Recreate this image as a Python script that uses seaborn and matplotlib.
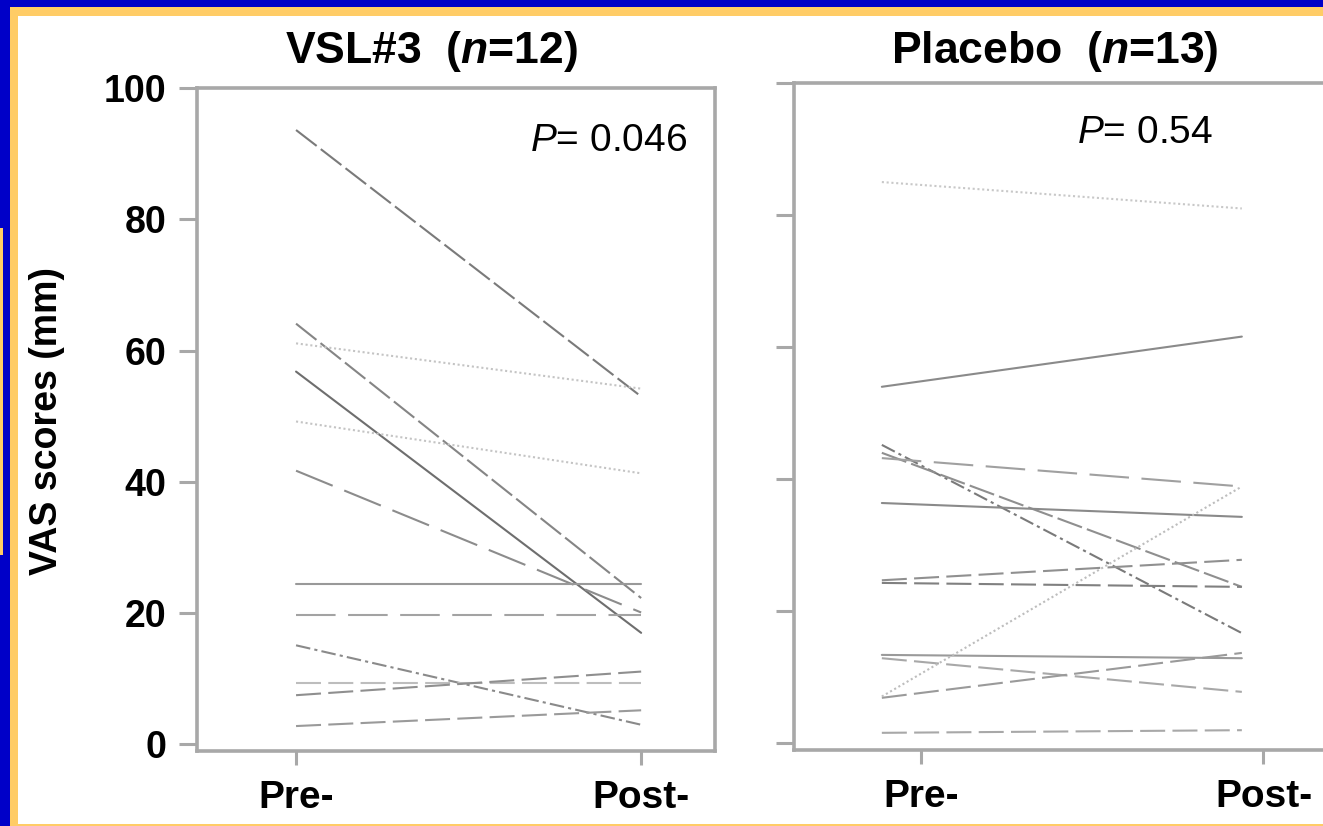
import matplotlib
matplotlib.use("Agg")
import matplotlib.pyplot as plt
import seaborn as sns
import pandas as pd
from matplotlib.patches import Rectangle

# ---------------- data ----------------
timepoints = ["Pre-", "Post-"]
yticks = [0, 20, 40, 60, 80, 100]

vsl_pre = [93.6, 64.1, 61.1, 56.8, 49.2, 41.7, 24.4, 19.7, 15.1, 9.4, 7.5, 2.8]
vsl_post = [53.0, 22.3, 54.2, 17.0, 41.3, 20.1, 24.4, 19.7, 3.0, 9.4, 11.1, 5.2]

pla_pre = [85.0, 54.0, 45.2, 44.0, 43.2, 36.4, 24.7, 24.3, 13.4, 12.9, 6.9, 7.1, 1.6]
pla_post = [81.0, 61.6, 16.7, 23.7, 38.9, 34.3, 27.8, 23.7, 12.9, 7.8, 13.7, 38.9, 2.0]

vsl_title = r"VSL#3  ($\mathbf{n}$=12)"
pla_title = r"Placebo  ($\mathbf{n}$=13)"
vsl_p = r"$P$= 0.046"
pla_p = r"$P$= 0.54"
ylabel = "VAS scores (mm)"

# ---------------- styles ----------------
dash_map = {"solid": "", "short": (12.5, 2.5), "long": (19, 6), "med": (12, 3.5),
            "dot": (1.0, 1.3), "dashdot": (7, 2, 1.5, 2)}
vsl_styles = ["short", "short", "dot", "solid", "dot", "long", "solid", "long",
              "dashdot", "med", "med", "med"]
vsl_colors = ["#7a7a7a", "#858585", "#c4c4c4", "#6e6e6e", "#c4c4c4", "#8c8c8c",
              "#999999", "#a3a3a3", "#8a8a8a", "#bdbdbd", "#8f8f8f", "#9a9a9a"]
pla_styles = ["dot", "solid", "dashdot", "short", "long", "solid", "med", "med",
              "solid", "med", "med", "dot", "med"]
pla_colors = ["#c8c8c8", "#8a8a8a", "#7a7a7a", "#8f8f8f", "#a0a0a0", "#8a8a8a",
              "#909090", "#808080", "#9a9a9a", "#a8a8a8", "#9a9a9a", "#bdbdbd", "#a8a8a8"]

sns.set_theme(style="white")
plt.rcParams["font.family"] = ["Liberation Sans", "DejaVu Sans"]
plt.rcParams["mathtext.fontset"] = "custom"
plt.rcParams["mathtext.rm"] = "Liberation Sans"
plt.rcParams["mathtext.it"] = "Liberation Sans:italic"
plt.rcParams["mathtext.bf"] = "Liberation Sans:italic:bold"
plt.rcParams["text.color"] = "black"
plt.rcParams["xtick.labelcolor"] = "black"
plt.rcParams["ytick.labelcolor"] = "black"

W, H = 1323, 826
fig = plt.figure(figsize=(W / 100, H / 100), dpi=100)
fig.patch.set_facecolor("#0000C8")


def fr(x0, y0, x1, y1, color):
    fig.add_artist(Rectangle((x0 / W, 1 - y1 / H), (x1 - x0) / W, (y1 - y0) / H,
                             transform=fig.transFigure, facecolor=color,
                             edgecolor="none", zorder=-10))


fr(10, 7, 1340, 840, "#FFCC66")
fr(18, 16, 1340, 824, "white")
fr(0, 228, 3, 555, "#FFCC66")

spine_c = "#a8a8a8"


def panel(rect, xlim, pre, post, styles, colors, xtick_pos, show_ylabels):
    ax = fig.add_axes([rect[0] / W, 1 - rect[3] / H, (rect[2] - rect[0]) / W,
                       (rect[3] - rect[1]) / H])
    ax.set_facecolor("white")
    n = len(pre)
    ids = [f"s{i}" for i in range(n)]
    df = pd.DataFrame({"subj": ids * 2, "time": [0] * n + [1] * n,
                       "score": list(pre) + list(post)})
    sns.lineplot(data=df, x="time", y="score", hue="subj", style="subj",
                 palette=dict(zip(ids, colors)),
                 dashes={i: dash_map[s] for i, s in zip(ids, styles)},
                 linewidth=1.5, legend=False, errorbar=None, ax=ax)
    ax.set_xlim(*xlim)
    ax.set_ylim(-1, 100)
    ax.set_xlabel("")
    ax.set_ylabel("")
    for s in ax.spines.values():
        s.set_visible(True)
        s.set_color(spine_c)
        s.set_linewidth(2.6)
    ax.set_xticks(xtick_pos, timepoints, fontsize=28, fontweight="bold", color="black")
    if show_ylabels:
        ax.set_yticks(yticks, [str(t) for t in yticks], fontsize=27,
                      fontweight="bold", color="black")
    else:
        ax.set_yticks(yticks, [""] * len(yticks))
    ax.tick_params(axis="y", length=13, width=2.2, color=spine_c, pad=9, left=True)
    ax.tick_params(axis="x", length=10, width=2.2, color=spine_c, pad=11, bottom=True)
    ax.grid(False)
    return ax


axL = panel((197, 88, 715, 751), (-0.287, 1.214), vsl_pre, vsl_post,
            vsl_styles, vsl_colors, [0, 1], True)
axR = panel((794, 83, 1340, 750), (-0.244, -0.244 + 546 / 360), pla_pre, pla_post,
            pla_styles, pla_colors, [0.11, 1.06], False)

fig.text(431 / W, 1 - 63 / H, vsl_title, fontsize=32, fontweight="bold",
         ha="center", va="baseline", color="black")
fig.text(1055 / W, 1 - 63 / H, pla_title, fontsize=32, fontweight="bold",
         ha="center", va="baseline", color="black")
fig.text(609 / W, 1 - 151 / H, vsl_p, fontsize=28, ha="center", va="baseline",
         color="black")
fig.text(1145 / W, 1 - 143 / H, pla_p, fontsize=28, ha="center", va="baseline",
         color="black")
fig.text(47 / W, 1 - 421 / H, ylabel, fontsize=27, fontweight="bold",
         rotation=90, ha="center", va="center", color="black")

fig.savefig("out.png", dpi=100, facecolor=fig.get_facecolor())
